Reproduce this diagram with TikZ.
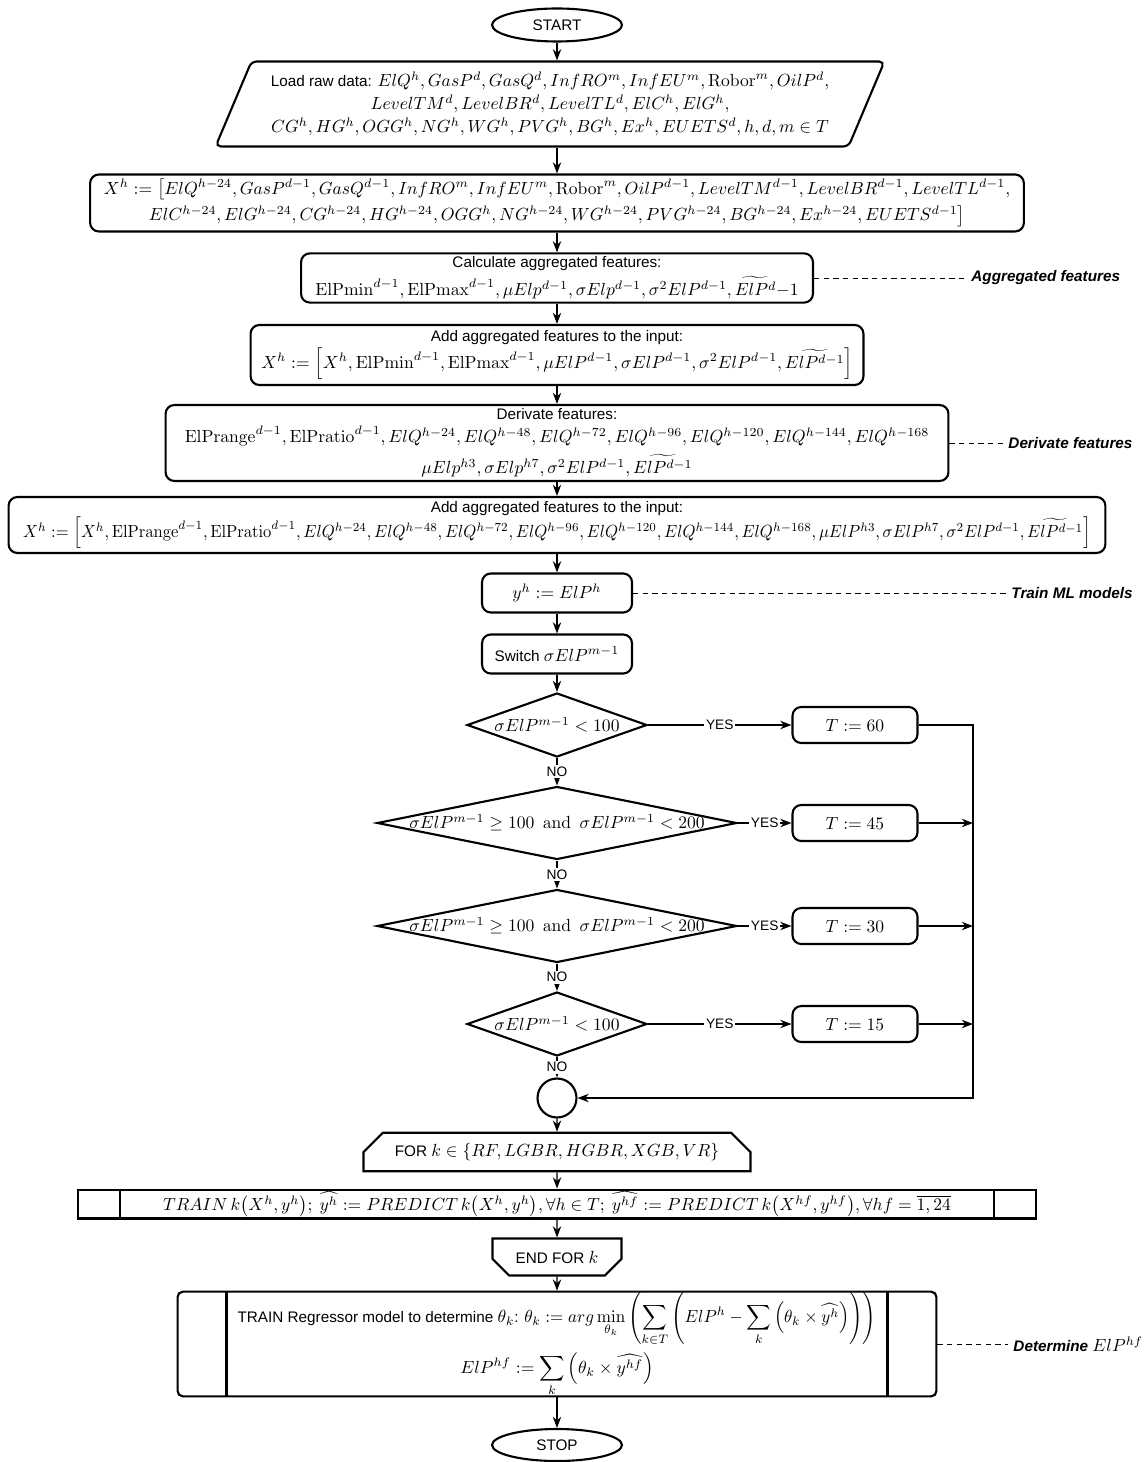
\documentclass[tikz,border=0pt]{standalone}
\usepackage{amsmath}
\usepackage[no-math]{fontspec}
\setmainfont{Liberation Sans}[Scale=0.87]
\usetikzlibrary{arrows.meta,shapes.geometric,shapes.misc,calc}
\newcommand{\nowidth}[1]{\makebox[0pt]{#1}}

\begin{document}
\begin{tikzpicture}[>=Stealth, x=0.02cm, y=-0.02cm,
    term/.style={ellipse, draw, line width=1.2pt, minimum width=2.6cm, minimum height=0.66cm},
    proc/.style={rectangle, rounded corners=5pt, draw, line width=1.2pt, align=center, inner sep=2pt},
    cond/.style={diamond, draw, line width=1.2pt, inner sep=0pt},
    flow/.style={->, line width=0.75pt},
    link/.style={line width=0.5pt, dash pattern=on 3pt off 2.5pt},
    note/.style={font=\bfseries\itshape, anchor=west},
    lbl/.style={fill=white, inner sep=1pt, font=\small}]

    \useasboundingbox (0,0) rectangle (1146,1462);

    % Input and feature preparation
    \node[term] (start) at (557,25) {START};

    \node[trapezium, trapezium left angle=62, trapezium right angle=118,
          trapezium stretches body, draw, line width=1.2pt, rounded corners=3pt,
          minimum height=1.7cm, minimum width=13.38cm, align=center, inner sep=1pt] (load) at (550,104) {
        Load raw data: $ElQ^h, GasP^d, GasQ^d, InfRO^m, InfEU^m, \mathrm{Robor}^m, OilP^d,$\\[1pt]
        $LevelTM^d, LevelBR^d, LevelTL^d, ElC^h, ElG^h,$\\[1pt]
        $CG^h, HG^h, OGG^h, NG^h, WG^h, PVG^h, BG^h, Ex^h, EUETS^d, h, d, m \in T$
    };

    \node[proc, minimum width=18.68cm, minimum height=1.14cm] (xh) at (557,203) {
        $X^h := \bigl[ElQ^{h-24}, GasP^{d-1}, GasQ^{d-1}, InfRO^m, InfEU^m, \mathrm{Robor}^m, OilP^{d-1}, LevelTM^{d-1}, LevelBR^{d-1}, LevelTL^{d-1},$\\[2pt]
        $ElC^{h-24}, ElG^{h-24}, CG^{h-24}, HG^{h-24}, OGG^h, NG^{h-24}, WG^{h-24}, PVG^{h-24}, BG^{h-24}, Ex^{h-24}, EUETS^{d-1}\bigr]$
    };

    \node[proc, minimum width=10.24cm, minimum height=0.94cm] (calc) at (557,278) {
        Calculate aggregated features:\\[2pt]
        $\mathrm{ElPmin}^{d-1}, \mathrm{ElPmax}^{d-1}, \mu Elp^{d-1}, \sigma Elp^{d-1}, \sigma^2 ElP^{d-1}, \widetilde{ElP^{d}}{-}1$
    };

    \node[proc, minimum width=12.26cm, minimum height=1.2cm] (addagg) at (557,355) {
        Add aggregated features to the input:\\[1pt]
        $X^h := \Bigl[X^h, \mathrm{ElPmin}^{d-1}, \mathrm{ElPmax}^{d-1}, \mu ElP^{d-1}, \sigma ElP^{d-1}, \sigma^2 ElP^{d-1}, \widetilde{ElP^{d-1}}\Bigr]$
    };

    \node[proc, minimum width=15.66cm, minimum height=1.52cm] (deriv) at (557,443) {
        Derivate features:\\[1pt]
        $\mathrm{ElPrange}^{d-1}, \mathrm{ElPratio}^{d-1}, ElQ^{h-24}, ElQ^{h-48}, ElQ^{h-72}, ElQ^{h-96}, ElQ^{h-120}, ElQ^{h-144}, ElQ^{h-168}$\\[4pt]
        $\mu Elp^{h3}, \sigma Elp^{h7}, \sigma^2 ElP^{d-1}, \widetilde{ElP^{d-1}}$
    };

    \node[proc, minimum width=21.94cm, minimum height=1.12cm] (addall) at (557,525) {
        Add aggregated features to the input:\\
        \scalebox{0.94}[1]{$X^h := \Bigl[X^h, \mathrm{ElPrange}^{d-1}, \mathrm{ElPratio}^{d-1}, ElQ^{h-24}, ElQ^{h-48}, ElQ^{h-72}, ElQ^{h-96}, ElQ^{h-120}, ElQ^{h-144}, ElQ^{h-168}, \mu ElP^{h3}, \sigma ElP^{h7}, \sigma^2 ElP^{d-1}, \widetilde{ElP^{d-1}}\Bigr]$}
    };

    \node[proc, minimum width=3cm, minimum height=0.78cm] (yh) at (557,593) {$y^h := ElP^h$};
    \node[proc, minimum width=3cm, minimum height=0.78cm] (switch) at (557,654) {Switch $\sigma ElP^{m-1}$};

    % Switch cases
    \foreach \n/\yy/\w/\h/\tt/\txt in {
        1/725/3.6/1.28/60/{$\sigma ElP^{m-1} < 100$},
        2/823/7.2/1.46/45/{$\sigma ElP^{m-1} \geq 100 \mathrm{\ \ and\ \ } \sigma ElP^{m-1} < 200$},
        3/926/7.2/1.46/30/{$\sigma ElP^{m-1} \geq 100 \mathrm{\ \ and\ \ } \sigma ElP^{m-1} < 200$},
        4/1024/3.6/1.28/15/{$\sigma ElP^{m-1} < 100$}} {
        \node[cond, minimum width=\w cm, minimum height=\h cm] (c\n) at (557,\yy) {\nowidth{\txt}};
        \node[proc, minimum width=2.5cm, minimum height=0.72cm] (t\n) at (855,\yy) {$T := \tt$};
        \draw[flow] (c\n) -- node[lbl] {YES} (t\n);
    }

    \node[circle, draw, line width=1.2pt, minimum size=0.78cm] (join) at (557,1098) {};
    \coordinate (bus) at (973,725);

    \foreach \a/\b in {c1/c2, c2/c3, c3/c4, c4/join}
        \draw[flow] (\a) -- node[lbl] {NO} (\b);

    \draw[flow] (t1) -- (bus) |- (join);
    \foreach \n in {2,3,4}
        \draw[flow] (t\n) -- (t\n -| bus);

    % Model training loop
    \node[chamfered rectangle, chamfered rectangle corners={north west, north east},
          chamfered rectangle xsep=0.4cm, draw, line width=1.2pt,
          minimum width=7.74cm, minimum height=0.7cm] (for) at (557,1152) {
        FOR $k \in \{RF, LGBR, HGBR, XGB, VR\}$
    };

    \node[rectangle, draw, line width=1.2pt, minimum width=19.16cm, minimum height=0.54cm, inner sep=1pt] (train) at (557,1204) {
        $TRAIN\,k\bigl(X^h, y^h\bigr);\ \widehat{y^h} := PREDICT\,k\bigl(X^h, y^h\bigr), \forall h \in T;\ \widehat{y^{hf}} := PREDICT\,k\bigl(X^{hf}, y^{hf}\bigr), \forall hf = \overline{1,24}$
    };
    \draw[line width=1.2pt] ([xshift=0.86cm]train.north west) -- ([xshift=0.86cm]train.south west);
    \draw[line width=1.2pt] ([xshift=-0.86cm]train.north east) -- ([xshift=-0.86cm]train.south east);

    \node[chamfered rectangle, chamfered rectangle corners={south west, south east},
          chamfered rectangle xsep=0.3cm, draw, line width=1.2pt,
          minimum width=2.58cm, minimum height=0.74cm] (endfor) at (557,1257) {END FOR $k$};

    % Ensemble weights
    \node[rectangle, rounded corners=3pt, draw, line width=1.2pt, align=center,
          minimum width=15.18cm, minimum height=2cm, inner sep=0pt] (regr) at (557,1344) {
        TRAIN Regressor model to determine $\theta_k$: \scalebox{0.97}[1]{$\displaystyle\theta_k := arg\min_{\theta_k}\left(\sum_{k \in T}\left(ElP^h - \sum_{k}\left(\theta_k \times \widehat{y^h}\right)\right)\right)$}\\[3pt]
        $\displaystyle ElP^{hf} := \sum_{k}\left(\theta_k \times \widehat{y^{hf}}\right)$
    };
    \draw[line width=1.2pt] ([xshift=1cm]regr.north west) -- ([xshift=1cm]regr.south west);
    \draw[line width=1.2pt] ([xshift=-1cm]regr.north east) -- ([xshift=-1cm]regr.south east);

    \node[term, minimum height=0.64cm] (stop) at (557,1445) {STOP};

    % Main flow
    \draw[flow] (start) -- (start |- load.north);
    \draw[flow] (load.south -| start) -- (xh);
    \draw[flow] (xh) -- (calc);
    \draw[flow] (calc) -- (addagg);
    \draw[flow] (addagg) -- (deriv);
    \draw[flow] (deriv) -- (addall);
    \draw[flow] (addall) -- (yh);
    \draw[flow] (yh) -- (switch);
    \draw[flow] (switch) -- (c1);
    \draw[flow] (join) -- (for);
    \draw[flow] (for) -- (train);
    \draw[flow] (train) -- (endfor);
    \draw[flow] (endfor) -- (regr);
    \draw[flow] (regr) -- (stop);

    % Side notes
    \node[note] (aggnote) at (966,278) {Aggregated features};
    \node[note] (dernote) at (1003,443) {Derivate features};
    \node[note] (mlnote) at (1006,593) {Train ML models};
    \node[note] (detnote) at (1008,1344) {Determine $ElP^{hf}$};
    \draw[link] (calc) -- (aggnote);
    \draw[link] (deriv) -- (dernote);
    \draw[link] (yh) -- (mlnote);
    \draw[link] (regr) -- (detnote);

\end{tikzpicture}
\end{document}
